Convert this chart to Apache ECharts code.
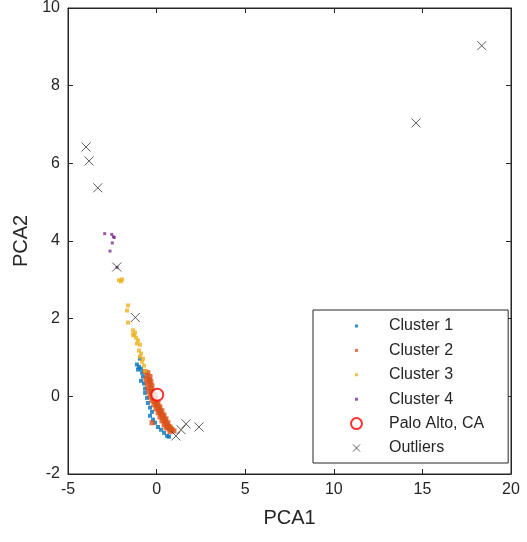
<!doctype html>
<html>
<head>
    <meta charset="utf-8">
    <title>PCA clusters</title>
    <script src="https://cdn.jsdelivr.net/npm/echarts@6/dist/echarts.min.js"></script>
    <style> html, body, #main {width: 100%; height: 100%; margin: 0; background: #fff;} </style>
</head>
<body>
<div id="main"></div>
<script>
// points, [PCA1, PCA2]
var cluster1 = [
    [-1.11,0.82],[-0.99,0.76],[-0.88,0.71],[-1.05,0.69],[-0.94,0.97],[-0.82,0.61],[-0.77,0.51],
    [-0.88,0.40],[-0.71,0.33],[-0.65,0.20],[-0.65,0.09],[-0.54,-0.04],[-0.49,-0.17],[-0.37,-0.29],
    [-0.26,-0.40],[-0.37,-0.50],[-0.20,-0.60],[-0.09,-0.68],[0.08,-0.79],[0.25,-0.86],[0.42,-0.94],
    [0.59,-1.02],[0.70,-1.04]
];
var cluster2 = [
    [-0.65,0.64],[-0.49,0.61],[-0.54,0.53],[-0.37,0.51],[-0.60,0.45],[-0.43,0.43],[-0.32,0.38],
    [-0.54,0.35],[-0.37,0.30],[-0.26,0.27],[-0.49,0.22],[-0.32,0.20],[-0.20,0.14],[-0.43,0.12],
    [-0.26,0.07],[-0.09,0.04],[-0.37,-0.01],[-0.20,-0.04],[-0.03,-0.06],[-0.26,-0.11],[-0.09,-0.14],
    [0.08,-0.17],[-0.15,-0.22],[0.02,-0.24],[0.19,-0.27],[-0.03,-0.32],[0.14,-0.35],[0.30,-0.37],
    [0.08,-0.42],[0.25,-0.45],[0.42,-0.48],[0.19,-0.53],[0.36,-0.55],[0.53,-0.58],[0.30,-0.63],
    [0.47,-0.66],[0.64,-0.68],[0.42,-0.73],[0.59,-0.76],[0.76,-0.79],[0.53,-0.81],[0.70,-0.84],
    [0.87,-0.86],[0.98,-0.89],[0.76,-0.91],[-0.26,-0.68],
    [-0.40,0.40],[-0.30,0.10],[-0.12,-0.05],[0.00,-0.20],[0.10,-0.30],[0.22,-0.40],[0.33,-0.50],
    [0.45,-0.60],[0.56,-0.70],[0.68,-0.78],[0.82,-0.84]
];
var cluster3 = [
    [-2.12,2.99],[-2.01,2.96],[-1.95,3.01],[-1.61,2.34],[-1.67,2.21],[-1.61,1.90],[-1.33,1.70],
    [-1.22,1.64],[-1.28,1.57],[-1.16,1.51],[-1.05,1.44],[-1.11,1.36],[-0.94,1.33],[-0.99,1.18],
    [-0.88,1.10],[-0.94,1.02],[-0.77,0.97],[-0.82,0.89],[-0.71,0.79],[-0.65,0.66],[-1.33,1.59]
];
var cluster4 = [
    [-2.93,4.19],[-2.53,4.17],[-2.44,4.11],[-2.39,4.09],[-2.50,3.95],[-2.63,3.74],[-2.23,3.32]
];
var paloAlto = [[0.04,0.04]];
var outliers = [
    [-3.98,6.42],[-3.81,6.06],[-3.32,5.37],[-2.25,3.33],[-1.20,2.03],
    [1.09,-1.02],[1.38,-0.86],[1.66,-0.71],[2.39,-0.79],[18.35,9.03],[14.64,7.04]
];
var names = ['Cluster 1','Cluster 2','Cluster 3','Cluster 4','Palo Alto, CA','Outliers'];
var colors = ['#0072BD','#D95319','#EDB120','#7E2F8E'];

var axisCol = '#262626';
var fontFam = 'Liberation Sans, Arial, sans-serif';
var dotIcon = 'path://M0 0M11 11M4 4L7 4L7 7L4 7Z';
var crossPath = 'path://M0 0L10 10M10 0L0 10';

function dots(name, data, col, size) {
    return {
        name: name, type: 'scatter', data: data, symbol: 'rect', symbolSize: size,
        itemStyle: {color: col}, emphasis: {disabled: true}, silent: true
    };
}

function axis(pos, min, max, step, extra) {
    var a = {
        type: 'value', min: min, max: max, interval: step, position: pos,
        axisLine: {show: true, onZero: false, lineStyle: {color: axisCol}},
        axisTick: {show: true, inside: true, length: 5, lineStyle: {color: axisCol}},
        axisLabel: {show: false},
        splitLine: {show: false}
    };
    for (var k in extra) a[k] = extra[k];
    return a;
}

var labelStyle = {show: true, fontFamily: fontFam, fontSize: 16, color: axisCol, margin: 8};
var nameStyle = {fontFamily: fontFam, fontSize: 20, color: axisCol};

var c = echarts.init(document.getElementById('main'));
var option = {
    backgroundColor: '#fff',
    animation: false,
    grid: {left: 68, right: 16, top: 8, bottom: 68, show: true, borderColor: axisCol, borderWidth: 1},
    legend: {
        orient: 'vertical', left: 313, top: 310,
        padding: [8, 24, 7, 37], itemGap: 8.4, itemWidth: 11, itemHeight: 11,
        borderColor: axisCol, borderWidth: 1, backgroundColor: '#fff',
        textStyle: {fontFamily: fontFam, fontSize: 16, color: axisCol, lineHeight: 16, padding: [0, 0, 0, 22]},
        selectedMode: false,
        data: [
            {name: names[0], icon: dotIcon},
            {name: names[1], icon: dotIcon},
            {name: names[2], icon: dotIcon},
            {name: names[3], icon: dotIcon},
            {name: names[4], icon: 'emptyCircle', itemStyle: {borderWidth: 1.2}},
            {name: names[5], icon: 'path://M0 0M11 11M2 2L9 9M9 2L2 9', itemStyle: {borderWidth: 1}}
        ]
    },
    xAxis: [
        axis('bottom', -5, 20, 5, {name: 'PCA1', nameLocation: 'middle', nameGap: 34,
            nameTextStyle: nameStyle, axisLabel: labelStyle}),
        axis('top', -5, 20, 5, {})
    ],
    yAxis: [
        axis('left', -2, 10, 2, {name: 'PCA2', nameLocation: 'middle', nameGap: 36,
            nameTextStyle: nameStyle, axisLabel: labelStyle}),
        axis('right', -2, 10, 2, {})
    ],
    series: [
        dots(names[0], cluster1, colors[0], 4),
        dots(names[1], cluster2, colors[1], 5),
        dots(names[2], cluster3, colors[2], 4),
        dots(names[3], cluster4, colors[3], 3),
        {
            name: names[4], type: 'scatter', data: paloAlto, symbol: 'emptyCircle', symbolSize: 12,
            itemStyle: {color: '#ff0000', borderWidth: 1.2}, emphasis: {disabled: true}, silent: true
        },
        {
            name: names[5], type: 'scatter', data: outliers, symbol: crossPath, symbolSize: 9,
            itemStyle: {color: 'rgba(0,0,0,0)', borderColor: '#333', borderWidth: 1},
            emphasis: {disabled: true}, silent: true
        }
    ]
};
c.setOption(option);
</script>
</body>
</html>
